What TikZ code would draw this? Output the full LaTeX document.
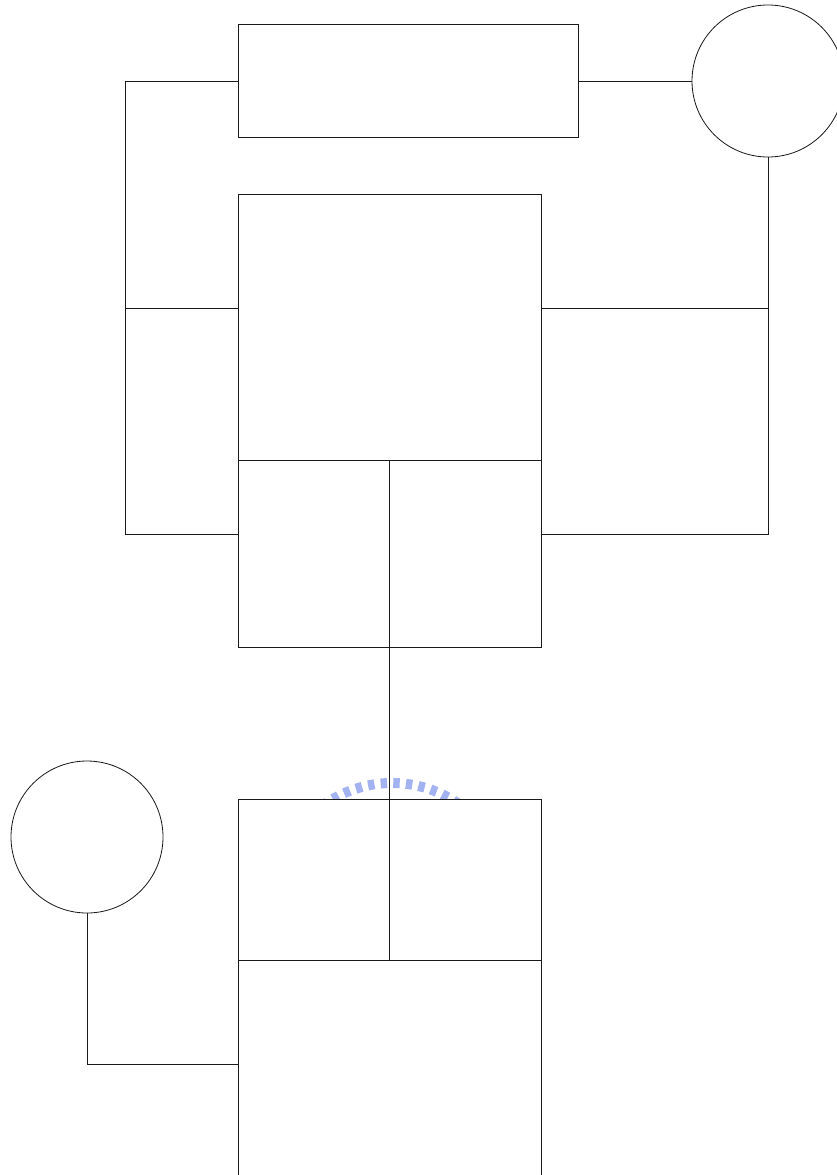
\documentclass[tikz,border=0pt]{standalone}
\usepackage{xcolor}
\usepackage{tikz}
\usetikzlibrary{positioning, calc}
\definecolor{edge}{HTML}{1A1A1A}
\definecolor{logoblue}{HTML}{A3B2F0}

\begin{document}
\begin{tikzpicture}[x=0.03cm, y=-0.03cm,
    blk/.style={draw=edge, line width=0.7pt, rectangle, inner sep=0pt, fill=white},
    port/.style={draw=edge, line width=0.7pt, circle, inner sep=0pt, minimum size=152*0.03cm},
    wire/.style={draw=edge, line width=0.7pt}]
\useasboundingbox (0,0) rectangle (836,1175);
% Watermark (behind the blocks)
\foreach \a in {55,61.2,...,126}
  \draw[logoblue, line width=5.5pt] ($(392,900)+(\a:-112)$) -- ($(392,900)+(\a:-122)$);

% Top row
\node[blk, minimum width=340*0.03cm, minimum height=113*0.03cm] (ctrl) at (408,81) {};
\node[port] (src) at (768,81) {};

% Upper stack
\node[blk, minimum width=303*0.03cm, minimum height=266*0.03cm] (core) at (389.5,327) {};
\node[blk, minimum width=151*0.03cm, minimum height=187*0.03cm] (ula) at (313.5,553.5) {};
\node[blk, minimum width=152*0.03cm, minimum height=187*0.03cm] (ulb) at (465,553.5) {};

% Lower stack
\node[blk, minimum width=151*0.03cm, minimum height=161*0.03cm] (lla) at (313.5,879.5) {};
\node[blk, minimum width=152*0.03cm, minimum height=161*0.03cm] (llb) at (465,879.5) {};
\node[blk, minimum width=303*0.03cm, minimum height=230*0.03cm] (base) at (389.5,1075) {};
\node[port] (sink) at (87,837) {};

% Junctions
\coordinate (lt) at (125,308);
\coordinate (lb) at (125,534);
\coordinate (rt) at (768,308);
\coordinate (rb) at (768,534);
\coordinate (sb) at (87,1064);

% Wires
\draw[wire] (ctrl.east) -- (src.west);
\draw[wire] (ctrl.west) -| (lb) -- (lb -| ula.west);
\draw[wire] (lt) -- (lt -| core.west);
\draw[wire] (src.south) -- (rb) -- (rb -| ulb.east);
\draw[wire] (rt) -- (rt -| core.east);
\draw[wire] (ula.south east) -- (lla.north east);
\draw[wire] (sink.south) -- (sb) -- (sb -| base.west);
\end{tikzpicture}
\end{document}
